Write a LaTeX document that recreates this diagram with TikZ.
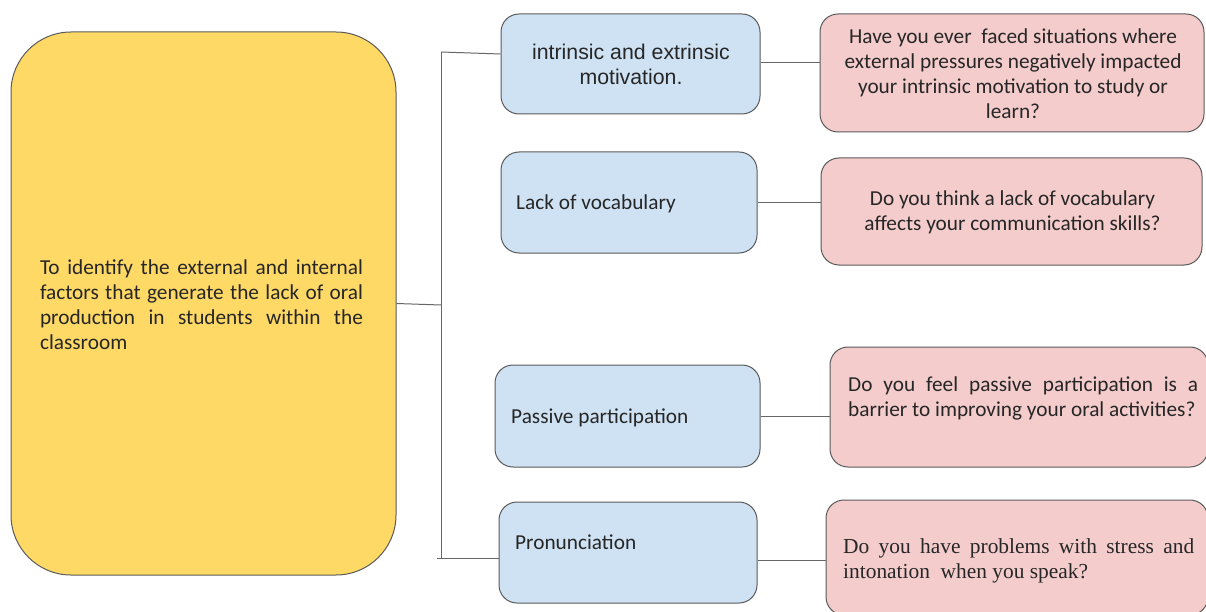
\documentclass[tikz,border=0pt]{standalone}
\usepackage{fontspec}
\setmainfont{Carlito}
\newfontfamily\arialf{Liberation Sans}
\newfontfamily\tnrf{Liberation Serif}
\definecolor{yel}{HTML}{FFD966}
\definecolor{blu}{HTML}{CFE2F3}
\definecolor{pnk}{HTML}{F4CCCC}
\definecolor{bordc}{HTML}{5A5A5A}
\definecolor{linec}{HTML}{666666}
\begin{document}
\begin{tikzpicture}[x=1pt,y=-1pt,
  box/.style={draw=bordc, line width=1pt, rounded corners=18pt, inner sep=0pt},
  yelbox/.style={box, fill=yel, rounded corners=60pt},
  blubox/.style={box, fill=blu},
  pnkbox/.style={box, fill=pnk},
  txt/.style={inner sep=0pt, font=\fontsize{21.3}{25}\selectfont, text=black!85},
  conn/.style={draw=linec, line width=1pt}]
\useasboundingbox (0,0) rectangle (1206,612);
\clip (0,0) rectangle (1206,612);
\fill[white] (0,0) rectangle (1206,612);

% main box
\node[yelbox, minimum width=385pt, minimum height=543pt] (Y) at (203.5,303.5) {};
\node[txt, text width=323pt, align=justify] (Yt) at (201.5,305)
 {To identify the external and internal\linebreak
  factors that generate the lack of oral\linebreak
  production in students within the\linebreak
  classroom};

% blue boxes
\node[blubox, minimum width=259pt, minimum height=100pt] (B1) at (630.5,64) {};
\node[blubox, minimum width=256pt, minimum height=101pt] (B2) at (629,202.5) {};
\node[blubox, minimum width=265pt, minimum height=102pt] (B3) at (627.5,416) {};
\node[blubox, minimum width=258pt, minimum height=101pt] (B4) at (628,552.5) {};
\node[txt, align=center, font=\arialf\fontsize{21.3}{25}\selectfont] (B1t) at (631,64.5)
 {intrinsic and extrinsic\\motivation.};
\node[txt, anchor=west] (B2t) at (516,204) {Lack of vocabulary};
\node[txt, anchor=west] (B3t) at (511,418) {Passive participation};
\node[txt, anchor=west] (B4t) at (515,542) {Pronunciation};

% pink boxes
\node[pnkbox, minimum width=384pt, minimum height=118pt] (P1) at (1012,73) {};
\node[pnkbox, minimum width=381pt, minimum height=107pt] (P2) at (1011.5,211.5) {};
\node[pnkbox, minimum width=378pt, minimum height=120pt] (P3) at (1019,407) {};
\node[pnkbox, minimum width=382pt, minimum height=115pt] (P4) at (1017,557.5) {};
\node[txt, align=center] (P1t) at (1013,74)
 {Have you ever\ \ faced situations where\\
  external pressures negatively impacted\\
  your intrinsic motivation to study or\\
  learn?};
\node[txt, align=center] (P2t) at (1012.5,212)
 {Do you think a lack of vocabulary\\affects your communication skills?};
\node[txt, text width=350pt, align=justify, anchor=west] (P3t) at (848,398)
 {Do you feel passive participation is a\linebreak
  barrier to improving your oral activities?};
\node[txt, text width=351pt, align=justify, anchor=west, font=\tnrf\fontsize{21.4}{25}\selectfont] (P4t) at (843,561)
 {Do you have problems with stress and\linebreak
  intonation\ \ when you speak?};

% bracket
\coordinate (bt) at (441,52);
\coordinate (bm) at (441,305);
\coordinate (bb) at (441,558);
\coordinate (bb0) at (437,558);
\draw[conn] (Y.east) -- (bm);
\draw[conn] (bt) -- (bb);
\draw[conn] (bt) -- ([yshift=10pt]B1.west);
\draw[conn] (bb0) -- ([yshift=-5.5pt]B4.west);

% connectors
\draw[conn] ([yshift=1pt]B1.east) -- ([yshift=1pt]B1.east -| P1.west);
\draw[conn] (B2.east) -- (B2.east -| P2.west);
\draw[conn] (B3.east) -- (B3.east -| P3.west);
\draw[conn] ([yshift=-7.5pt]B4.east) -- ([yshift=-7.5pt]B4.east -| P4.west);
\end{tikzpicture}
\end{document}
